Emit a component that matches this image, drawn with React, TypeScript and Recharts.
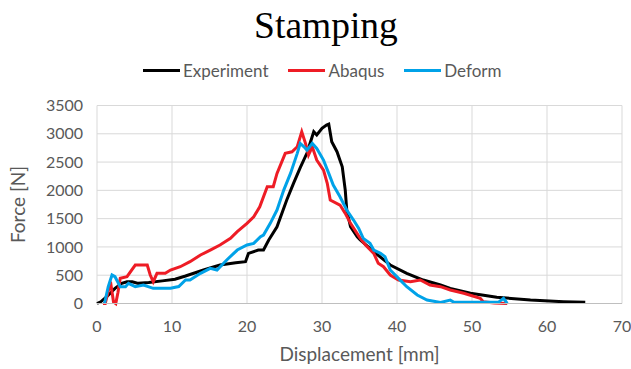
import { LineChart, Line, XAxis, YAxis, CartesianGrid, Legend } from 'recharts';

// Experiment (black)
const expX = [0, 0.5, 1.3, 2.4, 3.3, 4.0, 4.7, 5.5, 6.9, 8.7, 10.4, 11.8, 14.2, 16.4, 18.5, 19.8, 20.2, 21.5, 22.2, 22.9, 24.0, 25.3, 26.2, 27.1, 28.0, 28.9, 29.3, 30.0, 30.6, 30.9, 31.3, 32.0, 32.7, 33.1, 33.3, 33.8, 34.7, 35.1, 36.9, 39.1, 41.3, 43.5, 45.8, 47.1, 49.8, 53.3, 57.8, 62.2, 65.1];
const expY = [0, 30, 120, 268, 356, 385, 385, 356, 370, 400, 430, 486, 592, 680, 720, 739, 887, 945, 945, 1122, 1357, 1829, 2124, 2400, 2660, 3036, 2978, 3096, 3155, 3172, 2860, 2683, 2417, 2005, 1652, 1357, 1180, 1122, 916, 680, 534, 415, 327, 268, 180, 110, 62, 32, 20];

// Abaqus (red)
const abaX = [0.8, 1.1, 1.8, 2.2, 2.5, 2.8, 3.1, 4.0, 5.1, 6.7, 7.1, 7.5, 8.0, 9.1, 9.8, 11.1, 12.4, 13.8, 15.1, 16.4, 17.8, 18.7, 20.0, 20.9, 21.7, 22.7, 23.5, 24.0, 25.1, 26.0, 26.7, 27.3, 27.8, 28.2, 28.7, 29.3, 30.2, 30.7, 31.1, 32.4, 33.1, 33.8, 35.1, 35.8, 36.9, 37.5, 38.2, 39.1, 40.2, 41.8, 43.1, 44.4, 45.8, 47.1, 48.9, 51.1, 51.5, 53.0, 54.7];
const abaY = [0, 0, 385, 30, 0, 200, 445, 474, 680, 680, 504, 385, 534, 534, 592, 650, 739, 857, 945, 1034, 1152, 1269, 1417, 1534, 1710, 2064, 2064, 2300, 2654, 2682, 2770, 3036, 2830, 2624, 2770, 2535, 2359, 2124, 1829, 1740, 1594, 1417, 1152, 1034, 887, 710, 650, 504, 415, 385, 415, 327, 297, 239, 180, 92, 30, 10, 0];

// Deform (blue)
const defX = [1.0, 1.5, 2.0, 2.4, 3.1, 3.8, 4.2, 5.1, 6.2, 7.5, 9.8, 10.9, 11.8, 12.4, 13.8, 15.1, 16.0, 17.3, 18.7, 20.0, 20.9, 21.8, 22.2, 23.1, 24.0, 24.9, 25.8, 26.7, 27.1, 27.6, 28.0, 28.7, 29.3, 30.2, 30.9, 31.5, 32.4, 33.3, 34.2, 34.9, 35.5, 36.4, 36.9, 37.8, 38.4, 39.1, 40.2, 41.3, 42.7, 44.0, 45.8, 47.1, 47.6, 50.0, 53.5, 54.2, 54.7];
const defY = [0, 300, 504, 474, 297, 297, 356, 297, 327, 268, 268, 300, 415, 415, 534, 622, 592, 769, 945, 1034, 1063, 1180, 1210, 1417, 1652, 2005, 2300, 2654, 2830, 2770, 2712, 2830, 2742, 2535, 2300, 2094, 1887, 1652, 1475, 1328, 1152, 1063, 945, 887, 828, 592, 445, 297, 150, 62, 20, 60, 20, 20, 20, 92, 0];

const xTicks = [0, 10, 20, 30, 40, 50, 60, 70];
const yTicks = [0, 500, 1000, 1500, 2000, 2500, 3000, 3500];

const series = [
  { name: 'Experiment', color: '#000000', xs: expX, ys: expY },
  { name: 'Abaqus', color: '#ee1c25', xs: abaX, ys: abaY },
  { name: 'Deform', color: '#00a2e8', xs: defX, ys: defY },
];

const sans = 'Lato, "Liberation Sans", sans-serif';

function LegendRow() {
  return (
    <div style={{ display: 'flex', alignItems: 'center', paddingLeft: 143, fontFamily: sans, fontSize: 17, color: '#595959' }}>
      {series.map((s) => (
        <div key={s.name} style={{ display: 'flex', alignItems: 'center', marginRight: 20 }}>
          <span style={{ display: 'inline-block', width: 37, height: 3, background: s.color }} />
          <span style={{ marginLeft: 3 }}>{s.name}</span>
        </div>
      ))}
    </div>
  );
}

export default function App() {
  const tick = { fontSize: 16, fill: '#595959', fontFamily: sans };
  return (
    <div style={{ position: 'absolute', left: 0, top: 0, width: 631, height: 369, background: '#fff' }}>
      <div
        style={{
          position: 'absolute', left: 0, top: 8, width: 652, textAlign: 'center',
          fontFamily: '"Liberation Serif", serif', fontSize: 37.5, lineHeight: '36px', color: '#000',
        }}
      >
        Stamping
      </div>
      <LineChart width={631} height={369} margin={{ top: 105.5, right: 9, left: 0, bottom: 0 }}>
        <CartesianGrid stroke="#d9d9d9" strokeWidth={1} />
        <XAxis
          type="number"
          dataKey="x"
          domain={[0, 70]}
          ticks={xTicks}
          height={65.5}
          tick={tick}
          tickLine={false}
          tickMargin={11}
          axisLine={{ stroke: '#bfbfbf' }}
          label={{ value: 'Displacement [mm]', position: 'insideBottom', offset: 8, style: { fontSize: 19, fill: '#595959', fontFamily: sans } }}
        />
        <YAxis
          type="number"
          domain={[0, 3500]}
          ticks={yTicks}
          width={97}
          tick={tick}
          tickLine={false}
          axisLine={false}
          tickMargin={8}
          label={{ value: 'Force [N]', angle: -90, position: 'center', dx: -30, style: { fontSize: 19, fill: '#595959', fontFamily: sans, textAnchor: 'middle' } }}
        />
        <Legend verticalAlign="middle" align="center" layout="horizontal" wrapperStyle={{ top: 60, left: 0, width: 631 }} content={() => <LegendRow />} />
        {series.map((s) => (
          <Line
            key={s.name}
            name={s.name}
            data={s.xs.map((x, i) => ({ x, y: s.ys[i] }))}
            dataKey="y"
            type="linear"
            stroke={s.color}
            strokeWidth={3}
            dot={false}
            isAnimationActive={false}
          />
        ))}
      </LineChart>
    </div>
  );
}
